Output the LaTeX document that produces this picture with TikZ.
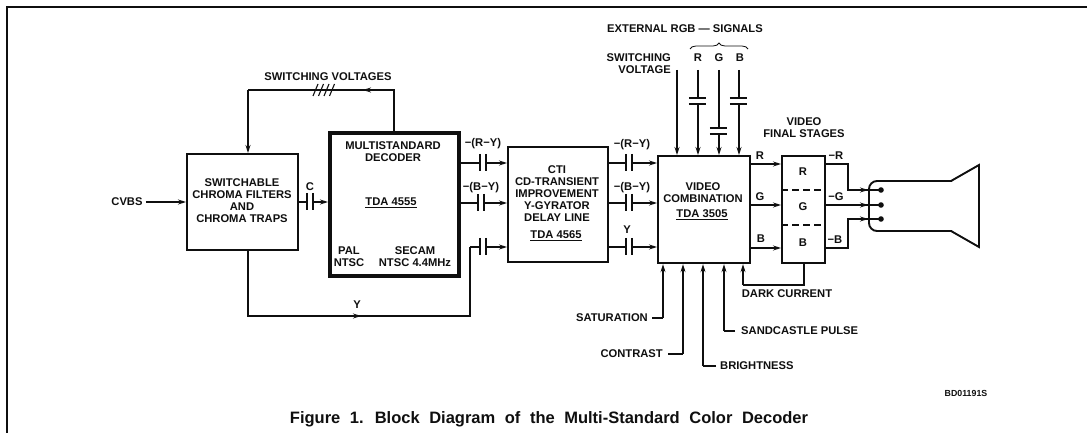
\documentclass[tikz,border=0pt]{standalone}
\usepackage{fontspec}
\setmainfont{Liberation Sans}
\usetikzlibrary{arrows.meta, positioning, calc, decorations.pathreplacing}
\definecolor{inkblack}{RGB}{15,15,15}
\tikzset{
    >={Stealth[length=8pt,width=5pt]},
    block/.style={rectangle, draw=inkblack, line width=2.2pt, anchor=north west, inner sep=0pt},
    label/.style={font=\fontsize{11.2}{12}\selectfont\bfseries, text=inkblack, inner sep=0pt, align=center},
    wire/.style={draw=inkblack, line width=1.1pt},
    flow/.style={wire, ->},
    plate/.style={draw=inkblack, line width=1.3pt},
    capgap/.style={fill=white, minimum width=5.5pt, minimum height=2pt, inner sep=0pt},
    capvgap/.style={fill=white, minimum height=5.5pt, minimum width=2pt, inner sep=0pt},
    stagesep/.style={wire, dashed, dash pattern=on 7pt off 4pt, line width=1.3pt}
}
% capacitor in a horizontal line
\newcommand{\caph}[2]{%
    \node[capgap] (#1) at (#2) {};
    \draw[plate] (#1.north west) ++(0,-8) -- ++(0,17);
    \draw[plate] (#1.north east) ++(0,-8) -- ++(0,17);
}
% capacitor in a vertical line
\newcommand{\capv}[2]{%
    \node[capvgap] (#1) at (#2) {};
    \draw[plate] (#1.north west) ++(-8,0) -- ++(17,0);
    \draw[plate] (#1.south west) ++(-8,0) -- ++(17,0);
}
\begin{document}
\begin{tikzpicture}[x=1pt, y=-1pt]
    \useasboundingbox (0,0) rectangle (1087,433);
    \fill[white] (0,0) rectangle (1087,433);

    % Frame
    \coordinate (fa) at (7,433);
    \coordinate (fb) at (7,7);
    \coordinate (fc) at (1087,7);
    \draw[wire] (fa) -- (fb) -- (fc);

    % Blocks
    \node[block, minimum width=111pt, minimum height=96pt] (filt) at (186,153) {};
    \node[block, line width=3.8pt, minimum width=129pt, minimum height=143pt] (dec) at (328,131) {};
    \node[block, minimum width=100pt, minimum height=115pt] (cti) at (507,146) {};
    \node[block, minimum width=92pt, minimum height=107pt] (comb) at (657,155) {};
    \node[block, minimum width=43pt, minimum height=107pt] (fin) at (781,155) {};
    \draw[stagesep] (fin.west |- 0,190) -- (fin.east |- 0,190);
    \draw[stagesep] (fin.west |- 0,225) -- (fin.east |- 0,225);

    % Block texts
    \node[label] (filttxt) at (242,201) {SWITCHABLE\\CHROMA FILTERS\\AND\\CHROMA TRAPS};
    \node[label] (dectxt) at (393,152) {MULTISTANDARD\\DECODER};
    \node[label] (decnum) at (391,203) {\underline{TDA 4555}};
    \node[label] (pal) at (349,257) {PAL\\NTSC};
    \node[label] (secam) at (415,257) {SECAM\\NTSC 4.4MHz};
    \node[label] (ctitxt) at (557,194) {CTI\\CD-TRANSIENT\\IMPROVEMENT\\Y-GYRATOR\\DELAY LINE};
    \node[label] (ctinum) at (556,236) {\underline{TDA 4565}};
    \node[label] (combtxt) at (703,193) {VIDEO\\COMBINATION};
    \node[label] (combnum) at (702,215) {\underline{TDA 3505}};
    \node[label] (finr) at (803,172) {R};
    \node[label] (fing) at (803,207) {G};
    \node[label] (finb) at (803,243) {B};
    \node[label] (fintxt) at (804,128) {VIDEO\\FINAL STAGES};

    % Input side
    \node[label] (cvbs) at (127,202) {CVBS};
    \draw[flow] (cvbs.east) ++(3,0) coordinate (cvbsout) (cvbsout) -- (cvbsout -| filt.west);
    \coordinate (cin) at (filt.east |- 0,202);
    \draw[flow] (cin) -- (cin -| dec.west);
    \caph{capc}{310,202}
    \node[label] (clab) at (310,187) {C};

    % Switching voltages
    \node[label] (swlab) at (328,77) {SWITCHING VOLTAGES};
    \coordinate (swa) at (394,90);
    \coordinate (swb) at (248,90);
    \draw[wire] (dec.north -| swa) -- (swa) -- (swb);
    \draw[flow] (swb) -- (swb |- filt.north);
    \draw[flow] (swa) -- (363,90);
    \foreach \i in {0,1,2,3}
        \draw[wire] ($(313,96)+(\i*5.5,0)$) -- ++(5,-12);

    % Y line
    \coordinate (ya) at (248,316);
    \coordinate (yb) at (470,316);
    \coordinate (yc) at (470,247);
    \draw[wire] (filt.south -| ya) -- (ya) -- (yb) -- (yc);
    \draw[flow] (ya) -- (361,316);
    \node[label] (ylab) at (357,305) {Y};
    \draw[flow] (yc) -- (yc -| cti.west);
    \caph{capy}{483,247}

    % Decoder to CTI
    \coordinate (ra) at (dec.east |- 0,163);
    \coordinate (ba) at (dec.east |- 0,203);
    \draw[flow] (ra) -- (ra -| cti.west);
    \draw[flow] (ba) -- (ba -| cti.west);
    \caph{capr}{483,163}
    \caph{capb}{481,203}
    \node[label] (rlab) at (483,144) {−(R−Y)};
    \node[label] (blab) at (481,188) {−(B−Y)};

    % CTI to combination
    \coordinate (rb) at (cti.east |- 0,163);
    \coordinate (bb) at (cti.east |- 0,203);
    \coordinate (yd) at (cti.east |- 0,247);
    \draw[flow] (rb) -- (rb -| comb.west);
    \draw[flow] (bb) -- (bb -| comb.west);
    \draw[flow] (yd) -- (yd -| comb.west);
    \caph{capr2}{629,163}
    \caph{capb2}{629,203}
    \caph{capy2}{629,247}
    \node[label] (rlab2) at (632,145) {−(R−Y)};
    \node[label] (blab2) at (632,188) {−(B−Y)};
    \node[label] (ylab2) at (627,230) {Y};

    % External signals
    \node[label] (extlab) at (685,29) {EXTERNAL RGB — SIGNALS};
    \node[label] (swvolt) at (671,64) [anchor=east, align=right] {SWITCHING\\VOLTAGE};
    \node[label] (extr) at (698,58) {R};
    \node[label] (extg) at (719,58) {G};
    \node[label] (extb) at (740,58) {B};
    \draw[wire, line width=0.8pt, decorate, decoration={brace, amplitude=6pt}] (690,49) -- (748,49);
    \coordinate (swv) at (677,70);
    \coordinate (ri) at (698,70);
    \coordinate (gi) at (719,70);
    \coordinate (bi) at (739,70);
    \draw[flow] (swv) -- (swv |- comb.north);
    \draw[flow] (ri) -- (ri |- comb.north);
    \draw[flow] (gi) -- (gi |- comb.north);
    \draw[flow] (bi) -- (bi |- comb.north);
    \capv{capext1}{698,101}
    \capv{capext2}{719,131}
    \capv{capext3}{739,101}

    % Combination to final stages
    \coordinate (ro) at (comb.east |- 0,164);
    \coordinate (go) at (comb.east |- 0,205);
    \coordinate (bo) at (comb.east |- 0,248);
    \draw[flow] (ro) -- (ro -| fin.west);
    \draw[flow] (go) -- (go -| fin.west);
    \draw[flow] (bo) -- (bo -| fin.west);
    \node[label] (olr) at (760,156) {R};
    \node[label] (olg) at (760,197) {G};
    \node[label] (olb) at (761,239) {B};

    % Bottom controls
    \node[label] (sat) at (648,318) [anchor=east] {SATURATION};
    \node[label] (con) at (663,354) [anchor=east] {CONTRAST};
    \node[label] (bri) at (720,366) [anchor=west] {BRIGHTNESS};
    \node[label] (san) at (741,331) [anchor=west] {SANDCASTLE PULSE};
    \coordinate (sa) at (663,318);
    \coordinate (ca) at (683,354);
    \coordinate (ba2) at (703,366);
    \coordinate (sb) at (724,331);
    \draw[wire] (652,318) -- (sa);
    \draw[wire] (668,354) -- (ca);
    \draw[wire] (716,366) -- (ba2);
    \draw[wire] (735,331) -- (sb);
    \draw[flow] (sa) -- (sa |- comb.south);
    \draw[flow] (ca) -- (ca |- comb.south);
    \draw[flow] (ba2) -- (ba2 |- comb.south);
    \draw[flow] (sb) -- (sb |- comb.south);

    % Dark current
    \coordinate (da) at (804,285);
    \coordinate (db) at (743,285);
    \draw[wire] (fin.south -| da) -- (da) -- (db);
    \draw[flow] (db) -- (db |- comb.south);
    \node[label] (dark) at (787,294) {DARK CURRENT};

    % Picture tube
    \draw[inkblack, line width=1.9pt, rounded corners=8pt] (952,181) -- (869,181) -- (869,231) -- (952,231);
    \draw[inkblack, line width=1.9pt, line join=miter] (951,181) -- (979,165) -- (979,247) -- (951,231);
    \fill[inkblack] (881,190) circle (2.8pt) coordinate (gunr);
    \fill[inkblack] (881,205) circle (2.8pt) coordinate (gung);
    \fill[inkblack] (881,219) circle (2.8pt) coordinate (gunb);
    \coordinate (fr) at (fin.east |- 0,164);
    \coordinate (fg) at (fin.east |- 0,205);
    \coordinate (fb2) at (fin.east |- 0,248);
    \draw[wire] (fr) -- (848,164) -- (848,190) -- (gunr);
    \draw[wire] (fg) -- (gung);
    \draw[wire] (fb2) -- (848,248) -- (848,219) -- (gunb);
    \draw[flow] (848,190) -- (868,190);
    \draw[flow] (848,205) -- (868,205);
    \draw[flow] (848,219) -- (868,219);
    \node[label] (outr) at (836,156) {−R};
    \node[label] (outg) at (836,197) {−G};
    \node[label] (outb) at (835,240) {−B};

    % Caption
    \node[label, font=\fontsize{8.8}{10}\selectfont\bfseries] (code) at (966,393) {BD01191S};
    \node[label, font=\fontsize{16.5}{18}\selectfont\bfseries] (caption) at (549,419) {\spaceskip=0.58em\relax Figure 1. Block Diagram of the Multi-Standard Color Decoder};
\end{tikzpicture}
\end{document}
